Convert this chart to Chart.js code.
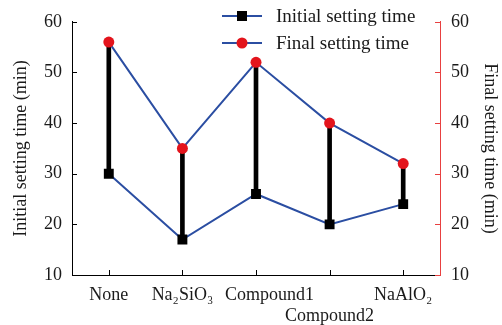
<!DOCTYPE html>
<html>
<head>
<meta charset="utf-8">
<script src="https://cdn.jsdelivr.net/npm/chart.js@4"></script>
<style>
    html, body { margin: 0; padding: 0; background: #fff; }
</style>
</head>
<body>
<canvas id="grafico" width="502" height="325"></canvas>
<script>
const categorias = ['None', 'Na₂SiO₃', 'Compound1', 'Compound2', 'NaAlO₂'];
const inicial = [30, 17, 26, 20, 24];
const final = [56, 35, 52, 40, 32];
const rangos = inicial.map((v, i) => [v, final[i]]);
const ejeMin = 10;
const ejeMax = 60;
const paso = 10;

const azul = '#2b4ea2';
const rojo = '#e3141c';
const rojoEje = '#e84040';
const fuente = '"Liberation Serif", "DejaVu Serif", serif';

// marcas de graduacion hacia adentro
const marcas = {
    id: 'marcas',
    afterDraw(chart) {
        const { ctx, chartArea: a, scales } = chart;
        ctx.save();
        ctx.lineWidth = 1;
        ctx.strokeStyle = '#000';
        scales.y.ticks.forEach(t => {
            const py = Math.round(scales.y.getPixelForValue(t.value)) + 0.5;
            ctx.beginPath(); ctx.moveTo(a.left, py); ctx.lineTo(a.left + 5, py); ctx.stroke();
        });
        scales.x.ticks.forEach((t, i) => {
            const px = Math.round(scales.x.getPixelForTick(i)) + 0.5;
            ctx.beginPath(); ctx.moveTo(px, a.bottom); ctx.lineTo(px, a.bottom - 5); ctx.stroke();
        });
        ctx.strokeStyle = rojoEje;
        scales.y1.ticks.forEach(t => {
            const py = Math.round(scales.y1.getPixelForValue(t.value)) + 0.5;
            ctx.beginPath(); ctx.moveTo(a.right, py); ctx.lineTo(a.right - 5, py); ctx.stroke();
        });
        ctx.restore();
    }
};

// leyenda dentro del grafico, arriba a la derecha
const leyenda = {
    id: 'leyenda',
    afterDraw(chart) {
        const ctx = chart.ctx;
        const filas = [
            { texto: 'Initial setting time', y: 16, forma: 'rect' },
            { texto: 'Final setting time', y: 43, forma: 'circle' }
        ];
        ctx.save();
        filas.forEach(f => {
            ctx.strokeStyle = azul;
            ctx.lineWidth = 2;
            ctx.beginPath(); ctx.moveTo(222, f.y); ctx.lineTo(262, f.y); ctx.stroke();
            if (f.forma === 'rect') {
                ctx.fillStyle = '#000';
                ctx.fillRect(237, f.y - 5, 10, 10);
            } else {
                ctx.fillStyle = rojo;
                ctx.beginPath(); ctx.arc(242, f.y, 5.5, 0, Math.PI * 2); ctx.fill();
            }
            ctx.fillStyle = '#1a1a1a';
            ctx.font = '19px ' + fuente;
            ctx.textBaseline = 'middle';
            ctx.textAlign = 'left';
            ctx.fillText(f.texto, 276, f.y + 1);
        });
        ctx.restore();
    }
};

const config = {
    type: 'bar',
    data: {
        labels: categorias,
        datasets: [
            {
                type: 'line',
                label: 'Initial setting time',
                data: inicial,
                borderColor: azul,
                borderWidth: 2,
                pointStyle: 'rect',
                pointRadius: 7,
                pointBackgroundColor: '#000',
                pointBorderWidth: 0,
                yAxisID: 'y',
                order: 1
            },
            {
                type: 'line',
                label: 'Final setting time',
                data: final,
                borderColor: azul,
                borderWidth: 2,
                pointStyle: 'circle',
                pointRadius: 5.5,
                pointBackgroundColor: rojo,
                pointBorderWidth: 0,
                yAxisID: 'y',
                order: 1
            },
            {
                label: 'rango',
                data: rangos,
                backgroundColor: '#000',
                barThickness: 4,
                yAxisID: 'y',
                order: 3
            }
        ]
    },
    options: {
        responsive: false,
        animation: false,
        layout: { padding: { top: 16, right: 0, left: 0, bottom: 0 } },
        plugins: {
            legend: { display: false },
            tooltip: { enabled: false }
        },
        scales: {
            x: {
                offset: true,
                grid: { display: false, drawTicks: false },
                border: { display: true, color: '#000', width: 1 },
                ticks: {
                    color: '#1a1a1a', padding: 9, maxRotation: 0, autoSkip: false,
                    font: { family: fuente, size: 18, lineHeight: 1.2 },
                    // Compound1 corrido a la derecha y Compound2 en segunda linea, como el original
                    callback(v, i) {
                        const t = categorias[i];
                        if (i === 2) return '      ' + t;
                        if (i === 3) return ['', t];
                        return t;
                    }
                },
                afterFit(s) { s.height = 50; }
            },
            y: {
                position: 'left',
                min: ejeMin,
                max: ejeMax,
                grid: { display: false, drawTicks: false },
                border: { display: true, color: '#000', width: 1 },
                ticks: { stepSize: paso, color: '#1a1a1a', padding: 10, font: { family: fuente, size: 18 } },
                title: { display: true, text: 'Initial setting time (min)', color: '#1a1a1a', padding: { top: 10, bottom: 0 }, font: { family: fuente, size: 18 } },
                afterFit(s) { s.width = 72; }
            },
            y1: {
                position: 'right',
                min: ejeMin,
                max: ejeMax,
                grid: { display: false, drawTicks: false },
                border: { display: true, color: rojoEje, width: 1 },
                ticks: { stepSize: paso, color: '#1a1a1a', padding: 11, font: { family: fuente, size: 18 } },
                title: { display: true, text: 'Final setting time (min)', color: '#1a1a1a', padding: { top: 1, bottom: 0 }, font: { family: fuente, size: 18 } },
                afterFit(s) { s.width = 62; }
            }
        }
    },
    plugins: [marcas, leyenda]
};

new Chart(document.getElementById('grafico'), config);
</script>
</body>
</html>
